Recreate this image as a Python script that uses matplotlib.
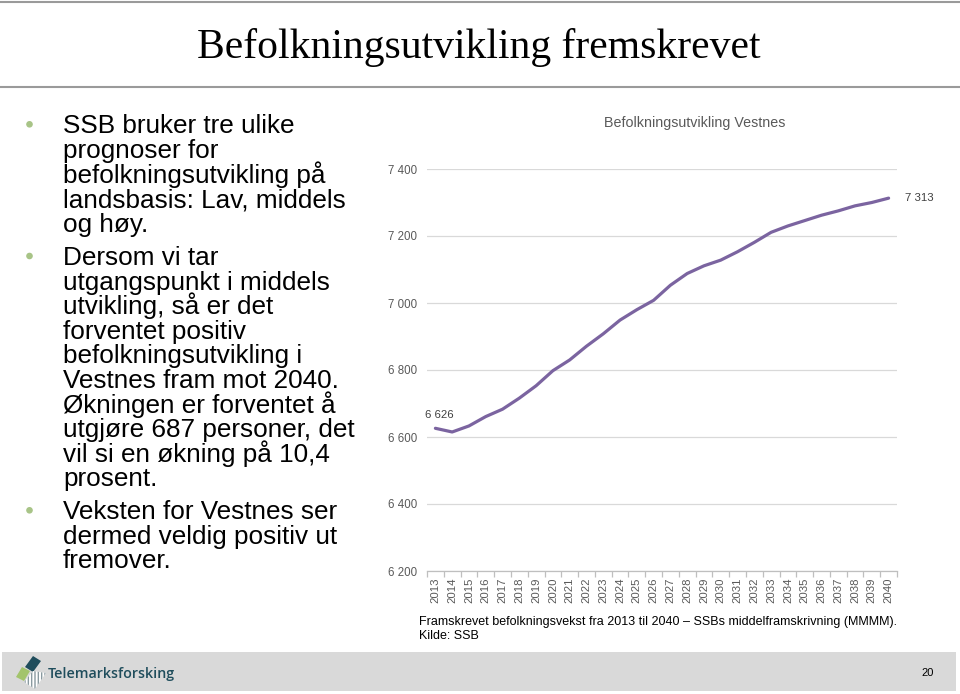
import matplotlib
matplotlib.use("Agg")
import matplotlib.pyplot as plt
from matplotlib.patches import Polygon, Rectangle, Circle

# ---------------- data ----------------
years = list(range(2013, 2041))
population = [6626, 6615, 6633, 6661, 6683, 6716, 6753, 6798, 6830, 6871,
              6908, 6949, 6980, 7008, 7053, 7088, 7111, 7128, 7153, 7181,
              7211, 7230, 7246, 7262, 7275, 7290, 7300, 7313]
y_ticks = [6200, 6400, 6600, 6800, 7000, 7200, 7400]

slide_title = "Befolkningsutvikling fremskrevet"
chart_title = "Befolkningsutvikling Vestnes"
caption_lines = ["Framskrevet befolkningsvekst fra 2013 til 2040 \u2013 SSBs middelframskrivning (MMMM).",
                 "Kilde: SSB"]
bullets = [
    ["SSB bruker tre ulike", "prognoser for", "befolkningsutvikling på",
     "landsbasis: Lav, middels", "og høy."],
    ["Dersom vi tar", "utgangspunkt i middels", "utvikling, så er det",
     "forventet positiv", "befolkningsutvikling i", "Vestnes fram mot 2040.",
     "Økningen er forventet å", "utgjøre 687 personer, det",
     "vil si en økning på 10,4", "prosent."],
    ["Veksten for Vestnes ser", "dermed veldig positiv ut", "fremover."],
]
page_no = "20"
logo_text = "Telemarksforsking"

W, H = 960, 694
fig = plt.figure(figsize=(W / 100, H / 100), dpi=100)
fig.patch.set_facecolor("white")

# background / slide layer in pixel coords
bg = fig.add_axes([0, 0, 1, 1])
bg.set_xlim(0, W)
bg.set_ylim(H, 0)
bg.axis("off")

# top lines
bg.plot([0, W], [1.5, 1.5], color="#9a9a9a", lw=1.5)
bg.plot([0, W], [87, 87], color="#9a9a9a", lw=1.5)

bg.text(479, 58, slide_title, fontsize=30, family="Liberation Serif",
        ha="center", va="baseline", color="black")

# bullets
sans = "Liberation Sans"
first_baselines = [133.3, 265.0, 519.3]
step = 24.6
for para, yb in zip(bullets, first_baselines):
    bg.add_patch(Circle((29.5, yb - 9), 2.6, color="#a8c487", zorder=3))
    for i, line in enumerate(para):
        bg.text(63, yb + i * step, line, fontsize=18.8, family=sans,
                ha="left", va="baseline", color="black")

# caption
bg.text(419, 625, caption_lines[0], fontsize=9, family=sans, ha="left",
        va="baseline", color="black")
bg.text(419, 639, caption_lines[1], fontsize=9, family=sans, ha="left",
        va="baseline", color="black")

# chart title
bg.text(695, 127, chart_title, fontsize=10.3, family=sans, ha="center",
        va="baseline", color="#595959")

# footer bar
bg.add_patch(Rectangle((2, 652), 954, 39, facecolor="#d9d9d9", edgecolor="none"))
bg.text(928, 673, page_no, fontsize=8, family=sans, ha="center", va="center",
        color="black")

# logo icon
bg.add_patch(Polygon([(25, 667), (33, 656), (41, 661), (33, 672)], closed=True,
                     facecolor="#1f4d5c", edgecolor="none"))
bg.add_patch(Polygon([(16, 677), (22, 667), (30, 671), (24, 681)], closed=True,
                     facecolor="#a3c46c", edgecolor="none"))
bg.add_patch(Polygon([(24, 682), (33, 671), (46, 673), (35, 689)], closed=True,
                     facecolor="white", edgecolor="#8a9aa0", hatch="|||||", lw=0.0))
bg.text(48, 678, logo_text, fontsize=10.3, family="Open Sans", ha="left",
        va="baseline", color="#1f4d5c", fontweight="semibold")

# ---------------- chart ----------------
left, right = 427, 897
top, bottom = 169, 571
ax = fig.add_axes([left / W, 1 - bottom / H, (right - left) / W, (bottom - top) / H])
ax.set_facecolor("none")
x = list(range(len(years)))
ax.plot(x, population, color="#7b64a0", lw=2.3, solid_capstyle="round",
        solid_joinstyle="round", zorder=3)
ax.set_xlim(-0.5, len(years) - 0.5)
ax.set_ylim(6200, 7400)
ax.set_yticks(y_ticks)
ax.set_yticklabels([f"{v:,}".replace(",", " ") for v in y_ticks])
ax.yaxis.grid(True, color="#d9d9d9", lw=0.9)
ax.set_axisbelow(True)
for s in ["top", "right", "left"]:
    ax.spines[s].set_visible(False)
ax.spines["bottom"].set_color("#bfbfbf")
ax.spines["bottom"].set_linewidth(0.9)
ax.tick_params(axis="y", length=0, pad=7, labelsize=8.3, labelcolor="#595959")
for lbl in ax.get_yticklabels():
    lbl.set_family(sans)
ax.set_xticks(x)
ax.set_xticklabels([str(y) for y in years], rotation=90, family=sans)
ax.tick_params(axis="x", which="major", length=0, pad=5, labelsize=8.2,
               labelcolor="#595959")
ax.set_xticks([i - 0.5 for i in range(len(years) + 1)], minor=True)
ax.tick_params(axis="x", which="minor", length=4, color="#bfbfbf", width=0.9)

ax.annotate(f"{population[0]:,}".replace(",", " "), (0, population[0]),
            xytext=(3, 6), textcoords="offset points", ha="center", va="bottom",
            fontsize=8.2, family=sans, color="#404040")
ax.annotate(f"{population[-1]:,}".replace(",", " "), (len(years) - 1, population[-1]),
            xytext=(12, 0), textcoords="offset points", ha="left", va="center",
            fontsize=8.2, family=sans, color="#404040", annotation_clip=False)

fig.savefig("out.png", dpi=100)
